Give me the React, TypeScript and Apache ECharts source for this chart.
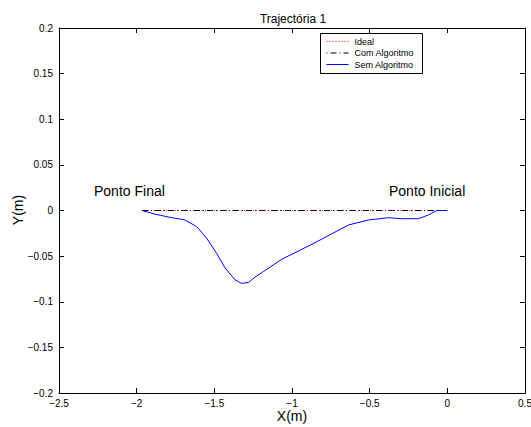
import React, { useEffect, useRef } from "react";
import * as echarts from "echarts";

const semX = [-1.966, -1.882, -1.785, -1.689, -1.613, -1.549, -1.485, -1.431, -1.367, -1.324, -1.281, -1.238, -1.185, -1.066, -1.024, -0.852, -0.637, -0.508, -0.38, -0.293, -0.186, -0.122, -0.068, 0.0];
const semY = [0, -0.004, -0.0075, -0.0104, -0.0177, -0.0305, -0.047, -0.063, -0.076, -0.0798, -0.079, -0.073, -0.067, -0.0535, -0.0499, -0.0353, -0.0159, -0.0104, -0.0079, -0.009, -0.009, -0.0049, 0, 0];
const idealX = [-1.966, 0];
const idealY = [0, 0];
const comX = [-1.966, 0];
const comY = [0, 0];
const seriesNames = ["Ideal", "Com Algoritmo", "Sem Algoritmo"];

const FONT = "'Liberation Sans', Arial, Helvetica, sans-serif";

const fmt = (v: number) => String(Math.round(v * 1000) / 1000).replace("-", "\u2212");

export default function App() {
  const ref = useRef<HTMLDivElement>(null);
  useEffect(() => {
    if (!ref.current) return;
    const chart = echarts.init(ref.current, null, { renderer: "svg" });
    const pair = (xs: number[], ys: number[]) => xs.map((x, i) => [x, ys[i]]);
    const tickStyle = { show: true, inside: true, length: 5, lineStyle: { color: "#000", width: 1 } };
    const lineStyleAxis = { show: true, onZero: false, lineStyle: { color: "#000", width: 1 } };
    const grid = { left: 59, top: 28, width: 466, height: 365, containLabel: false, outerBoundsMode: "none" };
    chart.setOption({
      animation: false,
      backgroundColor: "#fff",
      textStyle: { fontFamily: FONT },
      title: {
        text: "Trajectória 1",
        left: 288,
        top: 8,
        textAlign: "center",
        textStyle: { fontSize: 12, fontWeight: "normal", color: "#000", fontFamily: FONT },
      },
      grid,
      xAxis: [
        {
          type: "value",
          min: -2.5,
          max: 0.5,
          interval: 0.5,
          position: "bottom",
          axisLine: lineStyleAxis,
          axisTick: tickStyle,
          splitLine: { show: false },
          axisLabel: { formatter: fmt, fontSize: 10, color: "#000", margin: 5, fontFamily: FONT },
        },
        {
          type: "value",
          min: -2.5,
          max: 0.5,
          interval: 0.5,
          position: "top",
          axisLine: lineStyleAxis,
          axisTick: tickStyle,
          splitLine: { show: false },
          axisLabel: { show: false },
        },
      ],
      yAxis: [
        {
          type: "value",
          min: -0.2,
          max: 0.2,
          interval: 0.05,
          position: "left",
          axisLine: lineStyleAxis,
          axisTick: tickStyle,
          splitLine: { show: false },
          axisLabel: { formatter: fmt, fontSize: 10, color: "#000", margin: 6, fontFamily: FONT },
        },
        {
          type: "value",
          min: -0.2,
          max: 0.2,
          interval: 0.05,
          position: "right",
          axisLine: lineStyleAxis,
          axisTick: tickStyle,
          splitLine: { show: false },
          axisLabel: { show: false },
        },
      ],
      series: [
        {
          name: seriesNames[0],
          type: "line",
          data: pair(idealX, idealY),
          symbol: "none",
          lineStyle: { color: "#ff0000", width: 1, type: [1, 2] },
        },
        {
          name: seriesNames[1],
          type: "line",
          data: pair(comX, comY),
          symbol: "none",
          lineStyle: { color: "#000", width: 1, type: [6, 3, 1, 3] },
        },
        {
          name: seriesNames[2],
          type: "line",
          data: pair(semX, semY),
          symbol: "none",
          lineStyle: { color: "#0000ff", width: 1 },
        },
      ],
      graphic: [
        {
          type: "text",
          x: 292,
          y: 416,
          style: { text: "X(m)", fontSize: 14, fill: "#000", fontFamily: FONT, align: "center", verticalAlign: "middle" },
        },
        {
          type: "text",
          x: 18,
          y: 210,
          rotation: Math.PI / 2,
          style: { text: "Y(m)", fontSize: 14, fill: "#000", fontFamily: FONT, align: "center", verticalAlign: "middle" },
        },
        {
          type: "text",
          left: 94,
          top: 184,
          style: { text: "Ponto Final", fontSize: 14, fill: "#000", fontFamily: FONT },
        },
        {
          type: "text",
          left: 389,
          top: 184,
          style: { text: "Ponto Inicial", fontSize: 14, fill: "#000", fontFamily: FONT },
        },
        {
          type: "group",
          left: 320,
          top: 33,
          children: [
            {
              type: "rect",
              shape: { x: 0, y: 0, width: 102, height: 40 },
              style: { fill: "#fff", stroke: "#000", lineWidth: 1 },
            },
            {
              type: "line",
              shape: { x1: 6, y1: 8, x2: 28, y2: 8 },
              style: { stroke: "#ff0000", lineWidth: 1, lineDash: [1, 2] },
            },
            {
              type: "line",
              shape: { x1: 6, y1: 19.5, x2: 28, y2: 19.5 },
              style: { stroke: "#000", lineWidth: 1, lineDash: [1, 3, 6, 3] },
            },
            {
              type: "line",
              shape: { x1: 6, y1: 31, x2: 28, y2: 31 },
              style: { stroke: "#0000ff", lineWidth: 1 },
            },
            {
              type: "text",
              x: 34,
              y: 8,
              style: { text: seriesNames[0], fontSize: 9, fill: "#000", fontFamily: FONT, verticalAlign: "middle" },
            },
            {
              type: "text",
              x: 34,
              y: 19.5,
              style: { text: seriesNames[1], fontSize: 9, fill: "#000", fontFamily: FONT, verticalAlign: "middle" },
            },
            {
              type: "text",
              x: 34,
              y: 31,
              style: { text: seriesNames[2], fontSize: 9, fill: "#000", fontFamily: FONT, verticalAlign: "middle" },
            },
          ],
        },
      ],
    });
    return () => chart.dispose();
  }, []);
  return (
    <div
      ref={ref}
      style={{ position: "absolute", left: 0, top: 0, width: 531, height: 427, background: "#fff" }}
    />
  );
}
